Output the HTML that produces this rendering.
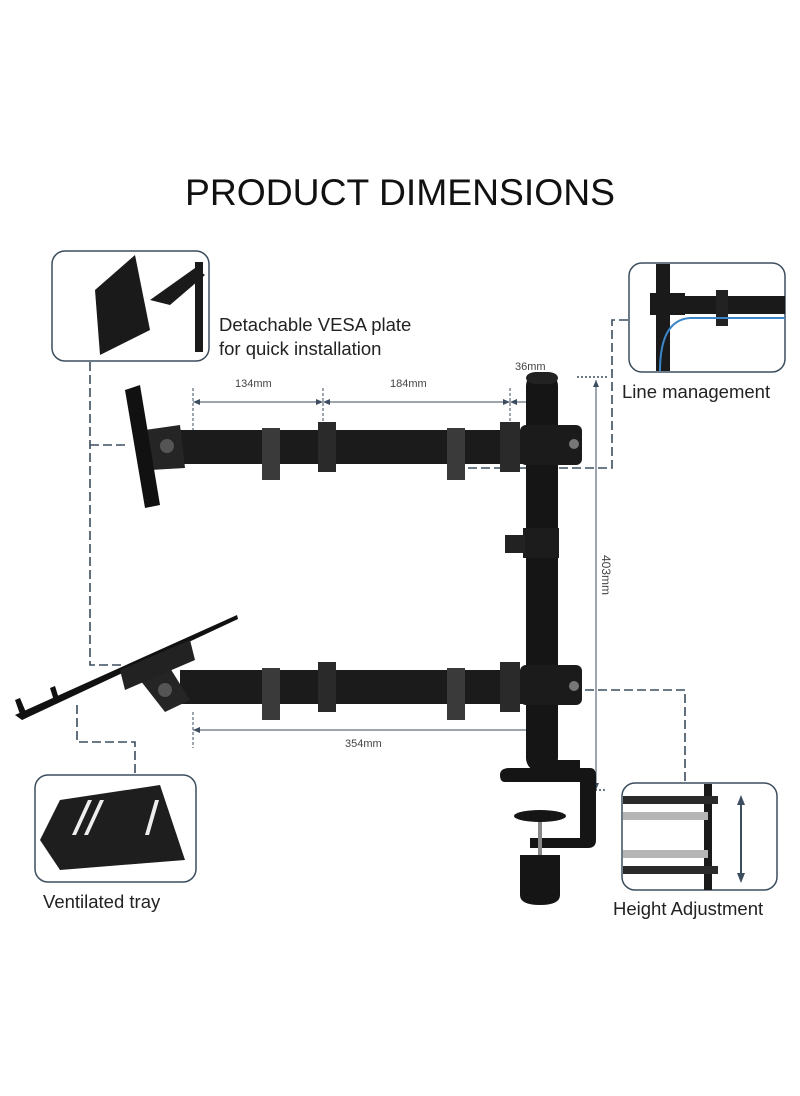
<!DOCTYPE html>
<html><head><meta charset="utf-8"><style>
html,body{margin:0;padding:0;background:#fff;}
svg{display:block;}
text{font-family:"Liberation Sans","DejaVu Sans",sans-serif;}
</style></head><body>
<svg width="800" height="1096" viewBox="0 0 800 1096" xmlns="http://www.w3.org/2000/svg">
<rect width="800" height="1096" fill="#fff"/>
<text x="400" y="205" font-size="37" text-anchor="middle" fill="#111" textLength="430" lengthAdjust="spacingAndGlyphs">PRODUCT DIMENSIONS</text>

<!-- dashed connectors -->
<g fill="none" stroke="#3b4d5e" stroke-width="1.6" stroke-dasharray="9,4">
  <path d="M90 362 V665 H125"/>
  <path d="M90 445 H128"/>
  <path d="M77 705 V742 H135 V775"/>
  <path d="M628 320 H612 V468 H460"/>
  <path d="M585 690 H685 V783"/>
</g>
<!-- dimension lines -->
<g stroke="#3b4d5e" stroke-width="1" fill="none">
  <path d="M193 388 V430 M323 388 V430 M510 388 V430" stroke-dasharray="3,2"/>
  <path d="M193 402 H540"/>
  <path d="M193 712 V748" stroke-dasharray="3,2"/>
  <path d="M193 730 H532"/>
  <path d="M596 380 V790"/>
  <path d="M577 377 H607 M583 790 H605" stroke-dasharray="2,2" stroke-width="1.5"/>
</g>
<g fill="#3b4d5e">
  <path d="M193 402 l7 -3 v6z M323 402 l-7 -3 v6z M323 402 l7 -3 v6z M510 402 l-7 -3 v6z M510 402 l7 -3 v6z"/>
  <path d="M193 730 l7 -3 v6z"/>
  <path d="M596 380 l-3 7 h6z M596 790 l-3 -7 h6z"/>
</g>
<g font-size="11" fill="#444">
  <text x="235" y="387">134mm</text>
  <text x="390" y="387">184mm</text>
  <text x="515" y="370">36mm</text>
  <text x="345" y="747">354mm</text>
  <text transform="translate(602,555) rotate(90)" font-size="12">403mm</text>
</g>

<!-- pole -->
<rect x="526" y="372" width="32" height="400" rx="14" fill="#151515"/>
<rect x="526" y="372" width="32" height="12" rx="10" fill="#222"/>
<rect x="523" y="528" width="36" height="30" fill="#1c1c1c"/>
<rect x="505" y="535" width="20" height="18" fill="#222"/>
<!-- top arm -->
<g fill="#1b1b1b">
  <rect x="180" y="430" width="345" height="34"/>
  <rect x="262" y="428" width="18" height="52" fill="#3a3a3a"/>
  <rect x="447" y="428" width="18" height="52" fill="#3a3a3a"/>
  <rect x="318" y="422" width="18" height="50" fill="#2a2a2a"/>
  <rect x="500" y="422" width="20" height="50" fill="#2a2a2a"/>
  <rect x="520" y="425" width="62" height="40" rx="6"/>
  <path d="M145 430 L180 425 L185 468 L150 470z" fill="#252525"/>
  <circle cx="167" cy="446" r="7" fill="#555"/>
  <circle cx="574" cy="444" r="5" fill="#777"/>
  <path d="M125 390 L140 385 L160 505 L145 508z" fill="#111"/>
</g>
<!-- bottom arm -->
<g fill="#1b1b1b">
  <rect x="180" y="670" width="345" height="34"/>
  <rect x="262" y="668" width="18" height="52" fill="#3a3a3a"/>
  <rect x="447" y="668" width="18" height="52" fill="#3a3a3a"/>
  <rect x="318" y="662" width="18" height="50" fill="#2a2a2a"/>
  <rect x="500" y="662" width="20" height="50" fill="#2a2a2a"/>
  <rect x="520" y="665" width="62" height="40" rx="6"/>
  <path d="M140 680 L165 660 L190 700 L165 712z" fill="#252525"/>
  <circle cx="165" cy="690" r="7" fill="#555"/>
  <circle cx="574" cy="686" r="5" fill="#777"/>
  <path d="M15 715 L237 615 L238 619 L22 720z" fill="#111"/>
  <path d="M120 670 L190 640 L195 660 L125 690z" fill="#222"/>
  <path d="M15 700 L22 720 L28 717 L20 698z M50 688 L55 704 L60 702 L55 686z" fill="#111"/>
</g>
<!-- clamp -->
<g fill="#151515">
  <path d="M500 775 Q500 768 510 768 L590 768 Q596 768 596 776 L596 840 Q596 848 588 848 L530 848 L530 838 L580 838 L580 782 L505 782 Q500 782 500 775z"/>
  <rect x="535" y="760" width="45" height="15"/>
  <rect x="538" y="820" width="4" height="40" fill="#888"/>
  <ellipse cx="540" cy="816" rx="26" ry="6"/>
  <path d="M520 855 h40 v40 q0 10 -20 10 q-20 0 -20 -10z"/>
</g>

<!-- inset boxes -->
<g fill="#fff" stroke="#3b4d5e" stroke-width="1.5">
  <rect x="52" y="251" width="157" height="110" rx="13"/>
  <rect x="629" y="263" width="156" height="109" rx="13"/>
  <rect x="35" y="775" width="161" height="107" rx="13"/>
  <rect x="622" y="783" width="155" height="107" rx="13"/>
</g>
<!-- TL inset -->
<g fill="#1a1a1a">
  <path d="M95 290 L135 255 L150 330 L100 355z"/>
  <path d="M150 300 L195 268 L205 275 L170 305z"/>
  <rect x="195" y="262" width="8" height="90"/>
</g>
<!-- TR inset -->
<g>
  <rect x="656" y="264" width="14" height="107" fill="#1a1a1a"/>
  <rect x="650" y="293" width="35" height="22" fill="#1a1a1a"/>
  <rect x="685" y="296" width="100" height="18" fill="#1a1a1a"/>
  <rect x="716" y="290" width="12" height="36" fill="#222"/>
  <path d="M660 371 Q660 320 690 318 L785 318" stroke="#3a86c8" stroke-width="2" fill="none"/>
</g>
<!-- BL inset -->
<g>
  <path d="M60 800 L160 785 L185 860 L60 870 L40 840z" fill="#1e1e1e"/>
  <path d="M72 835 L88 800 L92 800 L76 835z M84 835 L100 800 L104 800 L88 835z M145 835 L155 800 L159 800 L149 835z" fill="#eee"/>
</g>
<!-- BR inset -->
<g>
  <rect x="704" y="784" width="8" height="106" fill="#1a1a1a"/>
  <rect x="623" y="796" width="95" height="8" fill="#2a2a2a"/>
  <rect x="623" y="812" width="85" height="8" fill="#b5b5b5"/>
  <rect x="623" y="850" width="85" height="8" fill="#b5b5b5"/>
  <rect x="623" y="866" width="95" height="8" fill="#2a2a2a"/>
  <path d="M741 798 V880" stroke="#3b4d5e" stroke-width="2"/>
  <path d="M741 795 l-4 10 h8z M741 883 l-4 -10 h8z" fill="#3b4d5e"/>
</g>

<g font-size="18.5" fill="#222">
  <text x="219" y="331">Detachable VESA plate</text>
  <text x="219" y="355">for quick installation</text>
  <text x="622" y="398">Line management</text>
  <text x="43" y="908">Ventilated tray</text>
  <text x="613" y="915">Height Adjustment</text>
</g>
</svg>
</body></html>
